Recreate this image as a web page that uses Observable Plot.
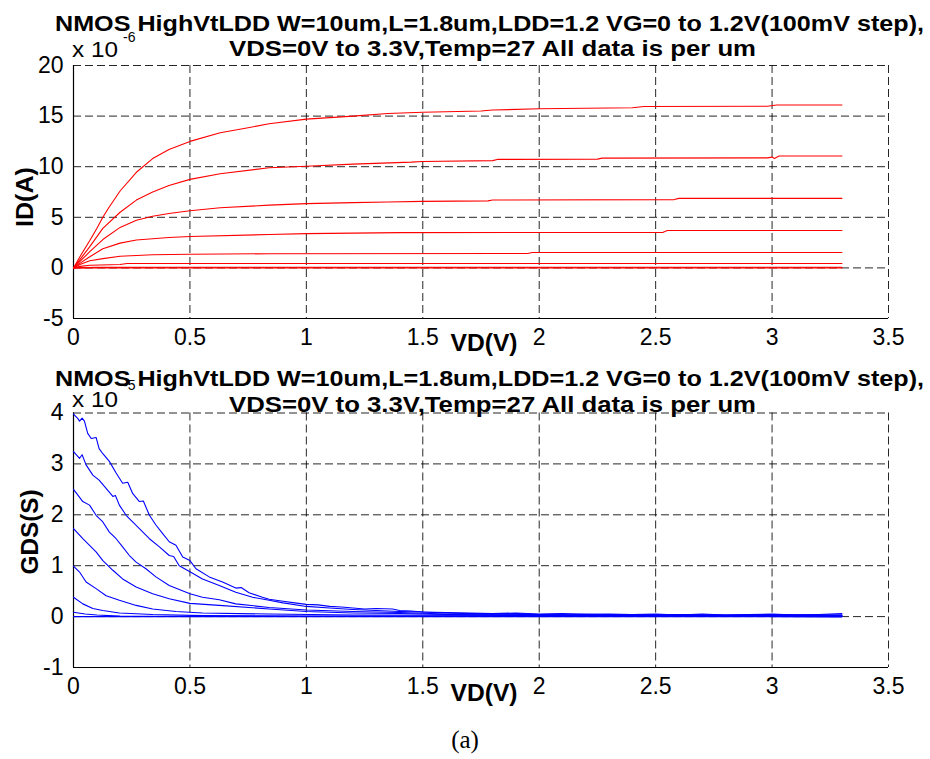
<!DOCTYPE html>
<html>
<head>
<meta charset="utf-8">
<script src="https://cdn.jsdelivr.net/npm/d3@7"></script>
<script src="https://cdn.jsdelivr.net/npm/@observablehq/plot@0.6"></script>
<style>
  body { margin: 0; background: #fff; }
  #wrap { position: relative; width: 930px; height: 759px; background: #fff; overflow: hidden; }
  #wrap > * { position: absolute; left: 0; }
  text { font-family: "Liberation Sans", Arial, Helvetica, sans-serif; }
</style>
</head>
<body>
<div id="wrap"></div>
<script>
// ---------------- DATA ----------------
// Titles / labels
const titleLine1 = "NMOS HighVtLDD W=10um,L=1.8um,LDD=1.2 VG=0 to 1.2V(100mV step),";
const titleLine2 = "VDS=0V to 3.3V,Temp=27 All data is per um";
const xLabel = "VD(V)";
const idLabel = "ID(A)";
const gdsLabel = "GDS(S)";
const caption = "(a)";
const scaleBase = "x 10";
const idExponent = "-6";
const gdsExponent = "-5";

// Tick values
const xTicks = [0, 0.5, 1, 1.5, 2, 2.5, 3, 3.5];
const idTicks = [-5, 0, 5, 10, 15, 20];
const gdsTicks = [-1, 0, 1, 2, 3, 4];

// Gate voltages (VG, V)
const vgValues = [1.2, 1.1, 1.0, 0.9, 0.8, 0.7, 0.6, 0.5];

// ID (x1e-6 A) vs VD (V), one list of [VD, ID] per VG
const id12 = [[0,0],[0.03,1.2],[0.07,2.7],[0.1,3.9],[0.126,5.0],[0.15,5.9],[0.2,7.6],[0.27,9.45],[0.34,10.8],[0.41,11.7],[0.5,12.5],[0.63,13.35],[0.75,13.85],[0.84,14.25],[1.0,14.7],[1.2,15.0],[1.35,15.25],[1.5,15.38],[1.75,15.5],[1.8,15.6],[2.0,15.72],[2.4,15.82],[2.45,15.95],[2.98,15.97],[3.02,16.1],[3.3,16.1]];
const id11 = [[0,0],[0.03,0.9],[0.07,2.1],[0.126,3.9],[0.2,5.5],[0.27,6.7],[0.34,7.5],[0.41,8.15],[0.5,8.75],[0.63,9.3],[0.84,9.9],[1.0,10.05],[1.2,10.25],[1.45,10.45],[1.5,10.52],[1.8,10.6],[1.82,10.72],[2.25,10.75],[2.27,10.85],[2.98,10.87],[3.0,10.95],[3.01,10.82],[3.03,11.05],[3.3,11.05]];
const id10 = [[0,0],[0.03,0.7],[0.07,1.6],[0.126,2.8],[0.2,4.0],[0.27,4.7],[0.34,5.1],[0.41,5.38],[0.5,5.65],[0.63,5.95],[0.84,6.2],[1.0,6.35],[1.2,6.45],[1.35,6.51],[1.5,6.57],[1.78,6.62],[1.8,6.71],[2.58,6.75],[2.6,6.87],[3.3,6.87]];
const id09 = [[0,0],[0.03,0.5],[0.07,1.1],[0.126,1.9],[0.2,2.45],[0.27,2.75],[0.41,3.0],[0.5,3.1],[0.84,3.3],[1.0,3.39],[1.4,3.49],[2.53,3.5],[2.55,3.69],[3.3,3.69]];
const id08 = [[0,0],[0.03,0.35],[0.07,0.7],[0.126,0.92],[0.2,1.15],[0.34,1.3],[0.5,1.35],[0.84,1.4],[1.95,1.42],[1.97,1.52],[3.3,1.52]];
const id07 = [[0,0],[0.03,0.15],[0.07,0.26],[0.2,0.33],[0.23,0.43],[3.3,0.43]];
const id06 = [[0,0],[0.1,0.05],[0.5,0.06],[3.3,0.07]];
const id05 = [[0,0],[3.3,0.0]];

// GDS (x1e-5 S) vs VD (V), one list of [VD, GDS] per VG
const gds12 = [[0,3.98],[0.019,3.89],[0.026,3.84],[0.037,3.9],[0.047,3.84],[0.061,3.6],[0.076,3.5],[0.097,3.52],[0.11,3.3],[0.126,3.2],[0.154,3.05],[0.183,2.82],[0.211,2.62],[0.233,2.64],[0.254,2.42],[0.283,2.26],[0.3,2.27],[0.326,1.99],[0.354,1.8],[0.383,1.63],[0.411,1.47],[0.44,1.4],[0.469,1.17],[0.5,1.1],[0.526,0.94],[0.583,0.78],[0.64,0.68],[0.697,0.56],[0.72,0.57],[0.754,0.47],[0.811,0.38],[0.84,0.34],[0.9,0.3],[0.95,0.27],[1.0,0.24],[1.05,0.23],[1.1,0.2],[1.15,0.19],[1.2,0.17],[1.25,0.15],[1.3,0.16],[1.37,0.15],[1.4,0.12],[1.45,0.11],[1.5,0.09],[1.6,0.08],[1.7,0.07],[1.8,0.06],[1.9,0.07],[2.0,0.05],[2.1,0.06],[2.2,0.04],[2.3,0.05],[2.4,0.04],[2.5,0.05],[2.6,0.03],[2.7,0.05],[2.8,0.03],[2.9,0.04],[3.0,0.05],[3.1,0.03],[3.2,0.04],[3.3,0.06]];
const gds11 = [[0,3.24],[0.026,3.11],[0.037,3.18],[0.054,2.98],[0.083,2.78],[0.11,2.68],[0.14,2.52],[0.169,2.36],[0.18,2.38],[0.197,2.19],[0.226,1.99],[0.254,1.86],[0.283,1.73],[0.326,1.53],[0.369,1.37],[0.411,1.2],[0.43,1.18],[0.454,1.0],[0.5,0.88],[0.554,0.74],[0.626,0.61],[0.697,0.48],[0.769,0.38],[0.84,0.32],[0.9,0.27],[1.0,0.2],[1.1,0.17],[1.2,0.14],[1.3,0.12],[1.4,0.1],[1.5,0.09],[1.6,0.07],[1.7,0.06],[1.8,0.05],[1.9,0.06],[2.0,0.04],[2.2,0.05],[2.4,0.03],[2.6,0.04],[2.8,0.03],[3.0,0.04],[3.3,0.03]];
const gds10 = [[0,2.5],[0.04,2.26],[0.069,2.19],[0.097,1.99],[0.126,1.86],[0.154,1.66],[0.183,1.53],[0.211,1.37],[0.24,1.2],[0.269,1.07],[0.311,0.94],[0.354,0.78],[0.411,0.61],[0.5,0.45],[0.554,0.38],[0.626,0.33],[0.697,0.25],[0.84,0.18],[1.0,0.13],[1.2,0.1],[1.4,0.08],[1.6,0.05],[1.8,0.06],[2.0,0.03],[2.5,0.03],[3.0,0.02],[3.3,0.03]];
const gds09 = [[0,1.73],[0.04,1.53],[0.069,1.4],[0.097,1.27],[0.126,1.1],[0.169,0.91],[0.211,0.74],[0.269,0.58],[0.34,0.45],[0.411,0.35],[0.5,0.26],[0.626,0.22],[0.84,0.15],[1.0,0.1],[1.2,0.07],[1.4,0.06],[1.6,0.04],[2.0,0.03],[3.3,0.02]];
const gds08 = [[0,0.99],[0.026,0.875],[0.054,0.68],[0.097,0.55],[0.14,0.41],[0.197,0.32],[0.269,0.22],[0.34,0.15],[0.44,0.1],[0.554,0.07],[0.84,0.05],[1.2,0.03],[3.3,0.01]];
const gds07 = [[0,0.38],[0.04,0.25],[0.083,0.16],[0.126,0.12],[0.197,0.07],[0.34,0.04],[0.554,0.02],[1.0,0.01],[3.3,0.0]];
const gds06 = [[0,0.085],[0.05,0.05],[0.1,0.03],[0.2,0.01],[3.3,0.0]];
const gds05 = [[0,0],[3.3,0]];

// ---------------- BUILD TABLES ----------------
const idLists = [id12, id11, id10, id09, id08, id07, id06, id05];
const gdsLists = [gds12, gds11, gds10, gds09, gds08, gds07, gds06, gds05];
const idRows = idLists.flatMap((pts, i) => pts.map(([vd, v]) => ({vd, v, vg: vgValues[i]})));
const gdsRows = gdsLists.flatMap((pts, i) => pts.map(([vd, v]) => ({vd, v, vg: vgValues[i]})));

const FONT = '"Liberation Sans", Arial, Helvetica, sans-serif';
const fmt = d => String(d);

function panel({rows, yTicks, color, height, marginTop, marginBottom}) {
  const yDomain = [yTicks[0], yTicks[yTicks.length - 1]];
  return Plot.plot({
    width: 930,
    height,
    marginLeft: 73,
    marginRight: 42,
    marginTop,
    marginBottom,
    style: {fontFamily: FONT, fontSize: "23px", color: "#000", background: "transparent", overflow: "visible"},
    x: {domain: [0, 3.5]},
    y: {domain: yDomain},
    marks: [
      Plot.gridX(xTicks, {stroke: "#000", strokeOpacity: 0.85, strokeWidth: 1, strokeDasharray: "8,4"}),
      Plot.gridY(yTicks, {stroke: "#000", strokeOpacity: 0.85, strokeWidth: 1, strokeDasharray: "8,4"}),
      Plot.ruleX([0], {stroke: "#000", strokeWidth: 1.2}),
      Plot.ruleY([yDomain[0]], {stroke: "#000", strokeWidth: 1.2}),
      Plot.line(rows, {x: "vd", y: "v", z: "vg", stroke: color, strokeWidth: 1.1, curve: "linear"}),
      Plot.axisX(xTicks, {tickSize: 0, tickPadding: 10, fontSize: 23, tickFormat: fmt, label: null}),
      Plot.axisY(yTicks, {tickSize: 0, tickPadding: 10, fontSize: 23, tickFormat: fmt, label: null})
    ]
  });
}

const wrap = document.getElementById("wrap");

const topPanel = panel({rows: idRows, yTicks: idTicks, color: "#ff0000", height: 360, marginTop: 65, marginBottom: 42});
topPanel.style.top = "0px";
wrap.appendChild(topPanel);

const bottomPanel = panel({rows: gdsRows, yTicks: gdsTicks, color: "#0000ff", height: 360, marginTop: 52.5, marginBottom: 53});
bottomPanel.style.top = "360px";
wrap.appendChild(bottomPanel);

// ---------------- TEXT OVERLAY ----------------
const svg = d3.create("svg")
  .attr("width", 930).attr("height", 759)
  .style("position", "absolute").style("top", "0px").style("left", "0px")
  .style("pointer-events", "none");

function txt(x, y, s, o = {}) {
  const t = svg.append("text")
    .attr("x", x).attr("y", y)
    .attr("text-anchor", o.anchor || "start")
    .style("font-size", (o.size || 22) + "px")
    .style("font-weight", o.weight || "normal")
    .style("font-family", o.family || FONT)
    .attr("fill", "#000")
    .text(s);
  if (o.length) t.attr("textLength", o.length).attr("lengthAdjust", "spacingAndGlyphs");
  if (o.rotate) t.attr("transform", `rotate(${o.rotate},${x},${y})`);
  return t;
}

// Top panel texts
txt(55, 30.5, titleLine1, {size: 22, weight: "bold", length: 869});
txt(229, 56, titleLine2, {size: 22, weight: "bold", length: 527});
txt(72, 57, scaleBase, {size: 22, length: 46});
txt(123, 42, idExponent, {size: 14});
txt(33, 197, idLabel, {size: 23, weight: "bold", anchor: "middle", rotate: -90, length: 60});
txt(484, 351, xLabel, {size: 23, weight: "bold", anchor: "middle", length: 67});

// Bottom panel texts
txt(55, 386, titleLine1, {size: 22, weight: "bold", length: 869});
txt(229, 412, titleLine2, {size: 22, weight: "bold", length: 527});
txt(72, 407, scaleBase, {size: 22, length: 46});
txt(123, 390, gdsExponent, {size: 14});
txt(38, 532, gdsLabel, {size: 23, weight: "bold", anchor: "middle", rotate: -90, length: 85});
txt(484, 701, xLabel, {size: 23, weight: "bold", anchor: "middle", length: 67});

// Caption
txt(465, 748, caption, {size: 25, family: '"Liberation Serif", "Times New Roman", serif', anchor: "middle"});

wrap.appendChild(svg.node());
</script>
</body>
</html>
